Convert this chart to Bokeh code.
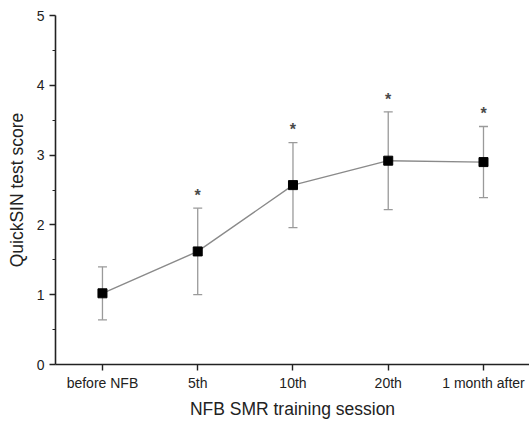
from bokeh.plotting import figure
from bokeh.models import ColumnDataSource, Range1d, FixedTicker, Whisker, TeeHead
from bokeh.core.properties import value
from bokeh.embed import file_html
from bokeh.resources import INLINE

sessions = ["before NFB", "5th", "10th", "20th", "1 month after"]
means = [1.02, 1.62, 2.57, 2.92, 2.90]
sd = [0.38, 0.62, 0.61, 0.70, 0.51]
significant = [False, True, True, True, True]

xs = list(range(len(sessions)))
upper = [m + s for m, s in zip(means, sd)]
lower = [m - s for m, s in zip(means, sd)]

src = ColumnDataSource(dict(x=xs, y=means, upper=upper, lower=lower))
star_x = [x for x, f in zip(xs, significant) if f]
star_y = [u + 0.18 for u, f in zip(upper, significant) if f]
star_src = ColumnDataSource(dict(x=star_x, y=star_y, t=["*"] * len(star_x)))

FONT = "Liberation Sans"

p = figure(width=529, height=421, output_backend="svg", toolbar_location=None,
           x_range=Range1d(-0.493, 4.483), y_range=Range1d(0, 5),
           min_border_left=55, min_border_right=0, min_border_top=15, min_border_bottom=57)
p.outline_line_color = None
p.grid.visible = False
p.background_fill_color = "white"
p.border_fill_color = "white"

whisk = Whisker(source=src, base="x", upper="upper", lower="lower",
                line_color="#9a9a9a", line_width=1.3,
                upper_head=TeeHead(size=9, line_color="#9a9a9a", line_width=1.3),
                lower_head=TeeHead(size=9, line_color="#9a9a9a", line_width=1.3))
p.add_layout(whisk)

p.line("x", "y", source=src, line_color="#8a8a8a", line_width=1.4)
p.scatter("x", "y", source=src, marker="square", size=9, fill_color="black", line_color="black")
p.text("x", "y", text="t", source=star_src, text_font=value(FONT), text_font_size="16px",
       text_font_style="bold", text_color="#4a4a4a", text_align="center", text_baseline="middle")

# axes
p.xaxis.ticker = FixedTicker(ticks=xs)
p.xaxis.major_label_overrides = {i: s for i, s in enumerate(sessions)}
p.yaxis.ticker = FixedTicker(ticks=[0, 1, 2, 3, 4, 5], minor_ticks=[0.5, 1.5, 2.5, 3.5, 4.5])

for ax in (p.xaxis, p.yaxis):
    ax.axis_line_color = "#222222"
    ax.axis_line_width = 1.6
    ax.major_tick_line_color = "#222222"
    ax.major_tick_line_width = 1.4
    ax.major_tick_out = 6
    ax.major_tick_in = 0
    ax.minor_tick_out = 3
    ax.minor_tick_in = 0
    ax.major_label_text_font = FONT
    ax.major_label_text_font_size = "14px"
    ax.major_label_text_color = "#222222"
    ax.axis_label_text_font = FONT
    ax.axis_label_text_font_size = "17.5px"
    ax.axis_label_text_font_style = "normal"
    ax.axis_label_text_color = "#222222"

p.xaxis.minor_tick_line_color = None
p.yaxis.minor_tick_line_color = "#222222"

p.xaxis.axis_label = "NFB SMR training session"
p.yaxis.axis_label = "QuickSIN test score"
p.xaxis.major_label_standoff = 4
p.xaxis.axis_label_standoff = 5
p.yaxis.major_label_standoff = 5
p.yaxis.axis_label_standoff = 7

open("out.html", "w").write(file_html(p, INLINE))
